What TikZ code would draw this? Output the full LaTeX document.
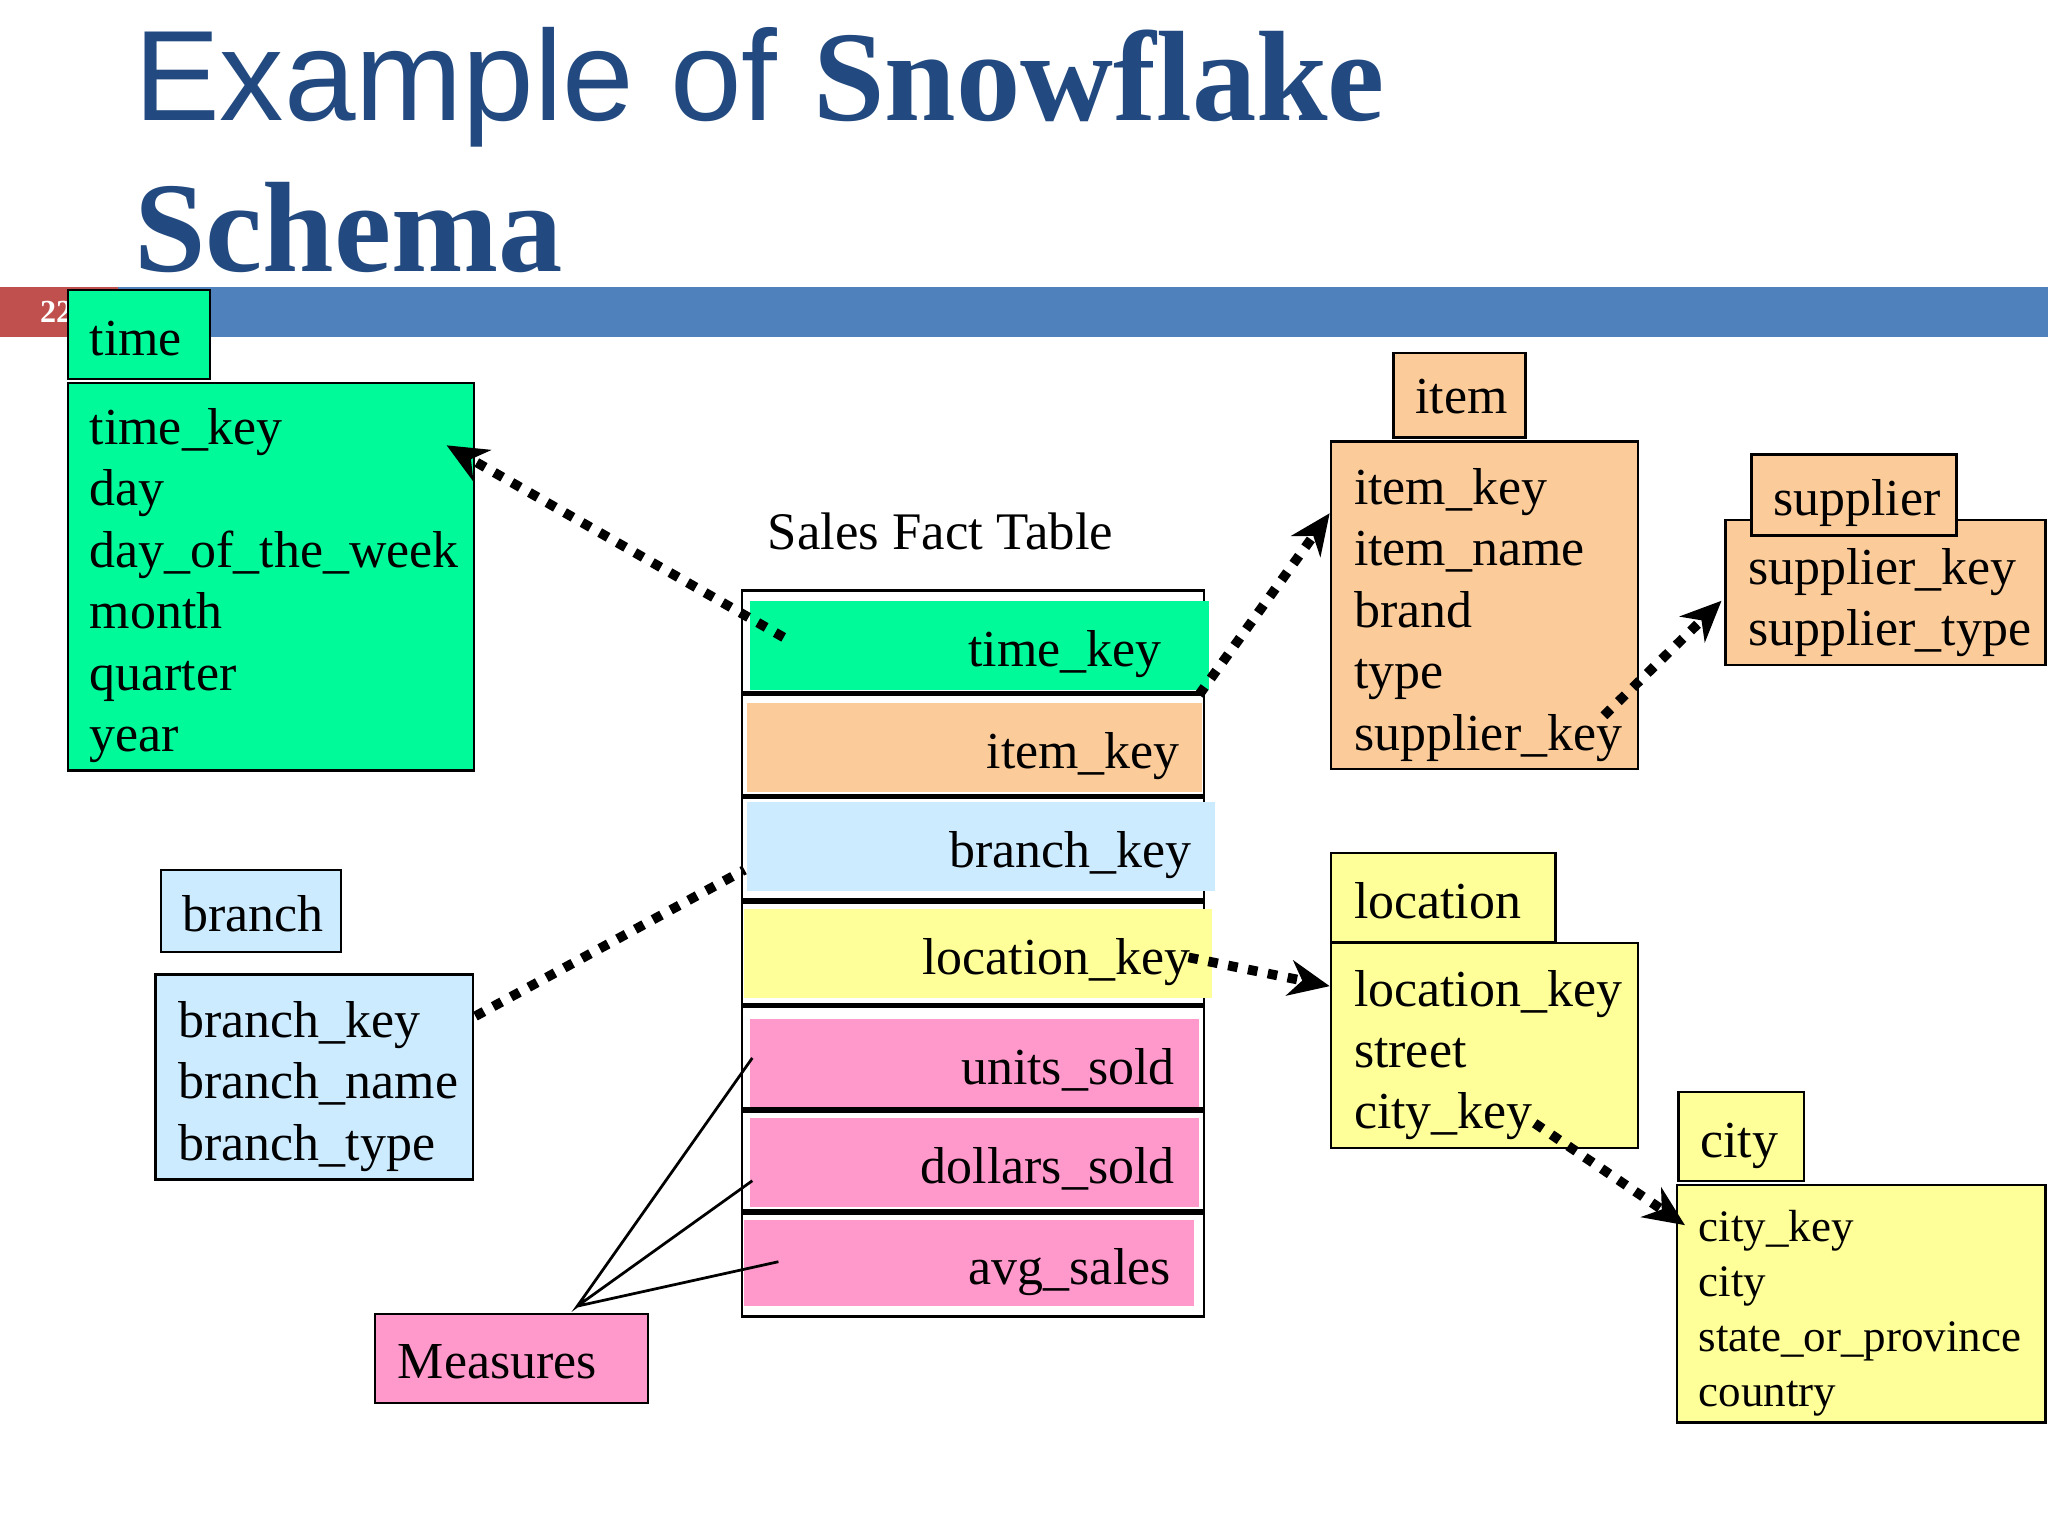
\documentclass[tikz,border=0pt]{standalone}
\usepackage{fontspec}
\setmainfont{Liberation Serif}
\newfontfamily\titlesans{Liberation Sans}
\usetikzlibrary{arrows.meta}
\definecolor{tblue}{HTML}{234A80}
\definecolor{barblue}{HTML}{4F81BD}
\definecolor{barred}{HTML}{C0504D}
\definecolor{cgreen}{HTML}{00FA9A}
\definecolor{corange}{HTML}{FBCB99}
\definecolor{cblue}{HTML}{CCEBFF}
\definecolor{cyellow}{HTML}{FFFF99}
\definecolor{cpink}{HTML}{FF99CC}
\tikzset{
 x=0.01cm,y=-0.01cm,
 bx/.style={draw=black,line width=0.5pt},
 txt/.style={font=\fontsize{11.3}{13}\selectfont,inner sep=0,anchor=base west,yshift=-3.5pt},
 row/.style={font=\fontsize{11.3}{13}\selectfont,inner sep=0,anchor=base east,yshift=-3.5pt},
 dotarrow/.style={line width=2.1pt,dash pattern=on 2.1pt off 2.3pt,-{Stealth[length=9pt,width=8pt,line width=0pt]}},
 dotline/.style={line width=2.1pt,dash pattern=on 2.1pt off 2.3pt},
}
\begin{document}
\begin{tikzpicture}
\useasboundingbox[fill=white] (0,0) rectangle (1568,1176);
% title
\node[anchor=base west,inner sep=0,text=tblue,font=\fontsize{28}{30}\selectfont] (t1) at (102,92) {\titlesans Example of \textbf{\rmfamily Snowflake}};
\node[anchor=base west,inner sep=0,text=tblue,font=\fontsize{28}{30}\selectfont\bfseries] (t2) at (102,208) {Schema};
% bar
\fill[barblue] (0,220) rectangle (1568,258);
\fill[barred] (0,220) rectangle (90,258);
\node[text=white,font=\bfseries\fontsize{7}{8}\selectfont,anchor=west,inner sep=0] (pg) at (30,239) {22};
% time
\filldraw[bx,fill=cgreen] (52,222) rectangle (161,290);
\node[txt] (tl) at (68,260) {time};
\filldraw[bx,fill=cgreen] (52,293) rectangle (363,590);
\foreach \t [count=\i from 0] in {time\_key,day,day\_of\_the\_week,month,quarter,year}
  \node[txt] (tm\i) at (68,328+47*\i) {\t};
% fact table
\node[font=\fontsize{11.5}{13}\selectfont,inner sep=0] (sft) at (720,407) {Sales Fact Table};
\draw[bx] (568,452) rectangle (922,1008);
\fill[cgreen] (574,460) rectangle (926,528);
\fill[corange] (572,538) rectangle (920,606);
\fill[cblue] (572,614) rectangle (930,682);
\fill[cyellow] (570,696) rectangle (928,764);
\fill[cpink] (574,780) rectangle (918,848);
\fill[cpink] (574,856) rectangle (918,924);
\fill[cpink] (570,934) rectangle (914,1000);
\foreach \y in {531,610,690,770,850,928} \draw[line width=1.2pt] (568,\y) -- (922,\y);
\node[row] (ftime) at (890,498) {time\_key};
\node[row] (fitem) at (904,576) {item\_key};
\node[row] (fbranch) at (913,652) {branch\_key};
\node[row] (floc) at (912,734) {location\_key};
\node[row] (funits) at (900,818) {units\_sold};
\node[row] (fdollars) at (900,894) {dollars\_sold};
\node[row] (favg) at (897,971) {avg\_sales};
% item
\filldraw[bx,fill=corange] (1067,270) rectangle (1168,335);
\node[txt] (il) at (1083,304) {item};
\filldraw[bx,fill=corange] (1019,338) rectangle (1254,589);
\foreach \t [count=\i from 0] in {item\_key,item\_name,brand,type,supplier\_key}
  \node[txt] (it\i) at (1036,374+47*\i) {\t};
% supplier
\filldraw[bx,fill=corange] (1321,398) rectangle (1566,509);
\filldraw[bx,fill=corange] (1341,348) rectangle (1498,410);
\node[txt] (sl) at (1357,382) {supplier};
\node[txt] (s0) at (1338,435) {supplier\_key};
\node[txt] (s1) at (1338,482) {supplier\_type};
% branch
\filldraw[bx,fill=cblue] (123,666) rectangle (261,729);
\node[txt] (bl) at (139,701) {branch};
\filldraw[bx,fill=cblue] (119,746) rectangle (362,903);
\foreach \t [count=\i from 0] in {branch\_key,branch\_name,branch\_type}
  \node[txt] (br\i) at (136,782+47*\i) {\t};
% location
\filldraw[bx,fill=cyellow] (1019,653) rectangle (1191,721);
\node[txt] (ll) at (1036,691) {location};
\filldraw[bx,fill=cyellow] (1019,722) rectangle (1254,879);
\foreach \t [count=\i from 0] in {location\_key,street,city\_key}
  \node[txt] (lo\i) at (1036,758+47*\i) {\t};
% city
\filldraw[bx,fill=cyellow] (1285,836) rectangle (1381,904);
\node[txt] (cl) at (1301,874) {city};
\filldraw[bx,fill=cyellow] (1284,907) rectangle (1566,1089);
\foreach \t [count=\i from 0] in {city\_key,city,state\_or\_province,country}
  \node[txt,font=\fontsize{9.8}{11}\selectfont,yshift=0.5pt] (ci\i) at (1300,940+42*\i) {\t};
% measures
\filldraw[bx,fill=cpink] (287,1006) rectangle (496,1074);
\node[txt] (ms) at (304,1043) {Measures};
% connectors
\coordinate (a1) at (600,488); \coordinate (a1e) at (342,341);
\coordinate (a2) at (918,532); \coordinate (a2e) at (1018,393);
\coordinate (a3) at (1228,548); \coordinate (a3e) at (1318,460);
\coordinate (a4) at (364,778); \coordinate (a4e) at (570,666);
\coordinate (a5) at (910,733); \coordinate (a5e) at (1018,755);
\coordinate (a6) at (1175,860); \coordinate (a6e) at (1290,938);
\draw[dotarrow] (a1) -- (a1e);
\draw[dotarrow] (a2) -- (a2e);
\draw[dotarrow] (a3) -- (a3e);
\draw[dotline] (a4) -- (a4e);
\draw[dotarrow] (a5) -- (a5e);
\draw[dotarrow] (a6) -- (a6e);
\coordinate (m0) at (442,1000);
\coordinate (m1) at (576,810); \coordinate (m2) at (576,904); \coordinate (m3) at (596,966);
\draw[line width=0.6pt] (m1) -- (m0) -- (m2) (m0) -- (m3);
\end{tikzpicture}
\end{document}
